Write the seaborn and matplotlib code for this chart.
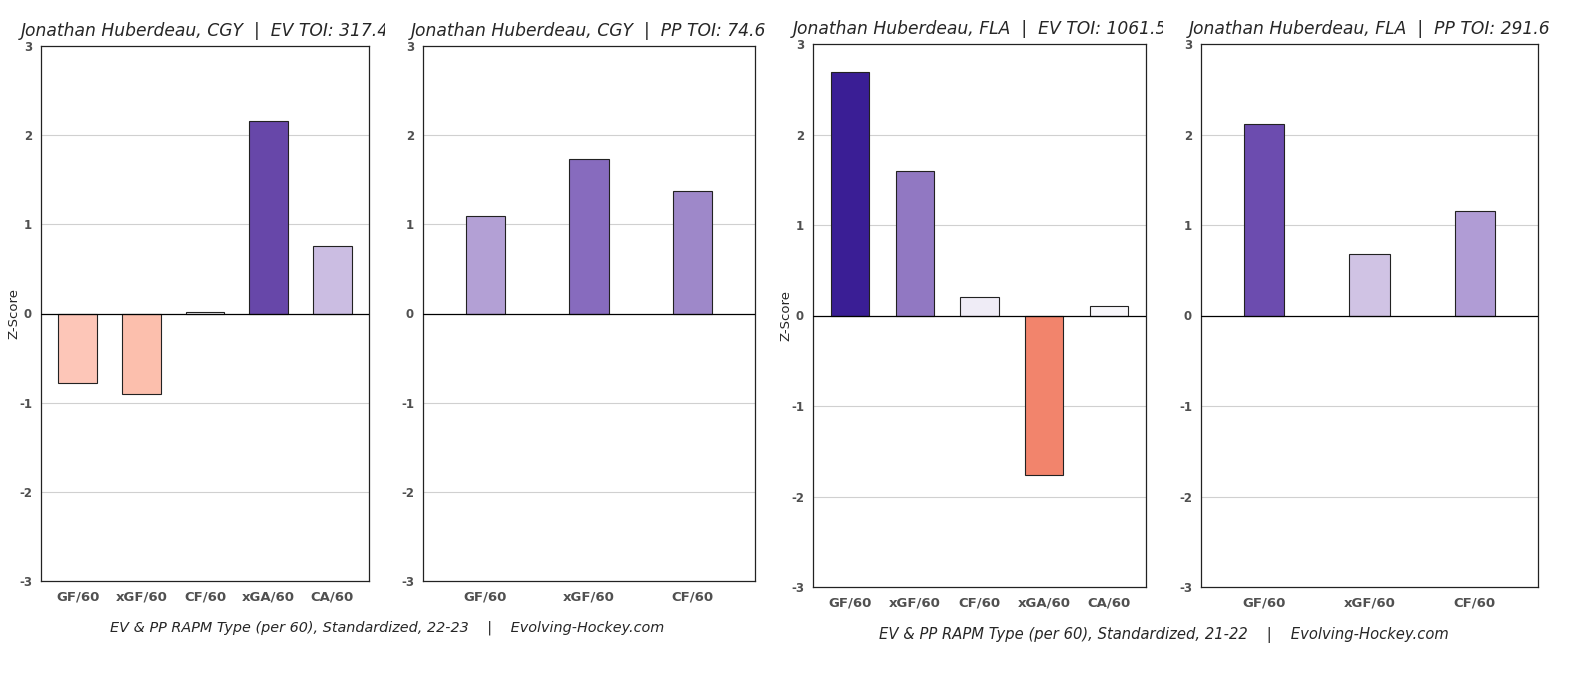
import numpy as np
import seaborn as sns
import matplotlib.pyplot as plt
from matplotlib.transforms import Bbox, TransformedBbox, IdentityTransform

# Données
ev_cats = ["GF/60", "xGF/60", "CF/60", "xGA/60", "CA/60"]
pp_cats = ["GF/60", "xGF/60", "CF/60"]

ev_2223 = [-0.78, -0.90, 0.02, 2.16, 0.76]
pp_2223 = [1.09, 1.73, 1.37]
ev_2122 = [2.69, 1.60, 0.20, -1.76, 0.10]
pp_2122 = [2.12, 0.68, 1.15]

ev_2223_colors = ["#fdc6b8", "#fcbfad", "#f4f3f8", "#6747a9", "#cbbde2"]
pp_2223_colors = ["#b3a0d5", "#876bbe", "#9e88c9"]
ev_2122_colors = ["#3a1e95", "#9178c2", "#efecf6", "#f2846c", "#f8f7fb"]
pp_2122_colors = ["#6c4caf", "#d0c3e4", "#b09cd5"]

titles = [
    "Jonathan Huberdeau, CGY  |  EV TOI: 317.4",
    "Jonathan Huberdeau, CGY  |  PP TOI: 74.6",
    "Jonathan Huberdeau, FLA  |  EV TOI: 1061.5",
    "Jonathan Huberdeau, FLA  |  PP TOI: 291.6",
]
footers = [
    "EV & PP RAPM Type (per 60), Standardized, 22-23    |    Evolving-Hockey.com",
    "EV & PP RAPM Type (per 60), Standardized, 21-22    |    Evolving-Hockey.com",
]

sns.set_style("white")
plt.rcParams["font.family"] = ["DejaVu Sans"]

W, H = 1584, 682
fig = plt.figure(figsize=(W / 100, H / 100), dpi=100)


def px_axes(x0, x1, top, bottom):
    return fig.add_axes([x0 / W, (H - bottom) / H, (x1 - x0) / W, (bottom - top) / H])


# (x0, x1, top, bottom, cats, vals, colors, bar width, xlim, ylabel, clip right)
panels = [
    (41, 369, 46, 581, ev_cats, ev_2223, ev_2223_colors, 0.61, (-0.58, 4.58), True, 385),
    (423, 755, 46, 581, pp_cats, pp_2223, pp_2223_colors, 0.38, (-0.6, 2.6), False, None),
    (813, 1146, 44, 587, ev_cats, ev_2122, ev_2122_colors, 0.59, (-0.57, 4.57), True, 1163),
    (1201, 1538, 44, 587, pp_cats, pp_2122, pp_2122_colors, 0.38, (-0.6, 2.6), False, None),
]

for i, (x0, x1, top, bottom, cats, vals, cols, bw, xl, ylab, clip) in enumerate(panels):
    ax = px_axes(x0, x1, top, bottom)
    ax.set_axisbelow(True)
    for v in [-2, -1, 1, 2]:
        ax.axhline(v, color="#d0d0d0", lw=0.8, zorder=0)
    sns.barplot(x=cats, y=vals, hue=cats, palette=dict(zip(cats, cols)),
                width=bw, saturation=1, edgecolor="#222222", linewidth=0.8,
                legend=False, ax=ax, zorder=2)
    ax.axhline(0, color="black", lw=0.9, zorder=3)
    ax.set_xlim(*xl)
    ax.set_ylim(-3, 3)
    ax.set_yticks([-3, -2, -1, 0, 1, 2, 3])
    ax.set_yticklabels(["-3", "-2", "-1", "0", "1", "2", "3"])
    ax.tick_params(axis="both", which="both", length=3, width=0.6, color="#555555")
    for lab in ax.get_xticklabels():
        lab.set_fontweight("bold")
        lab.set_fontsize(9.5)
        lab.set_color("#505050")
    for lab in ax.get_yticklabels():
        lab.set_fontweight("bold")
        lab.set_fontsize(8.5)
        lab.set_color("#505050")
    for s in ax.spines.values():
        s.set_color("#222222")
        s.set_linewidth(0.9)
    if ylab:
        ax.set_ylabel("Z-Score", fontsize=9.5)
        ax.yaxis.set_label_coords(-21 / (x1 - x0), 0.5)
    else:
        ax.set_ylabel("")
    t = ax.set_title(titles[i], fontsize=12.3, style="italic", pad=7)
    if clip is not None:
        t.set_clip_on(True)
        t.set_clip_box(TransformedBbox(Bbox([[0, 0], [clip, H]]), IdentityTransform()))

# Légendes du bas
fig.text(387 / W, 1 - 628 / H, footers[0], ha="center", va="center", fontsize=10.4, style="italic")
fig.text(1164 / W, 1 - 635 / H, footers[1], ha="center", va="center", fontsize=10.6, style="italic")

fig.savefig("out.png", dpi=100)
